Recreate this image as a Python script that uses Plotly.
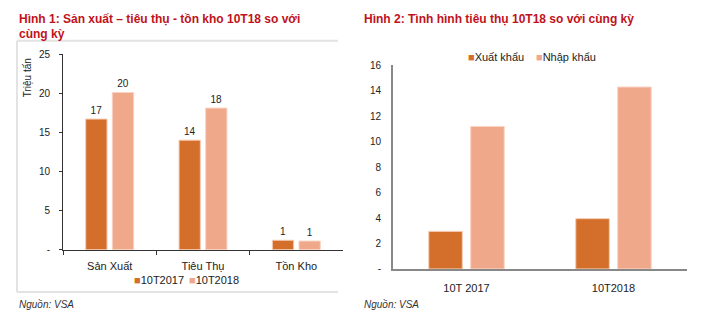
import plotly.graph_objects as go

# ---- data ----
cats1 = ["Sản Xuất", "Tiêu Thụ", "Tồn Kho"]
val_2017 = [16.7, 14.0, 1.2]
val_2018 = [20.1, 18.1, 1.1]
y1_ticks = [0, 5, 10, 15, 20, 25]
y1_ticktext = ["-", "5", "10", "15", "20", "25"]

cats2 = ["10T 2017", "10T2018"]
xuat_khau = [2.95, 3.95]
nhap_khau = [11.2, 14.3]
y2_ticks = [0, 2, 4, 6, 8, 10, 12, 14, 16]
y2_ticktext = ["-", "2", "4", "6", "8", "10", "12", "14", "16"]

series1_names = ["10T2017", "10T2018"]
series2_names = ["Xuất khẩu", "Nhập khẩu"]

DARK = "#D36F2B"
LIGHT = "#F0A88B"
RED = "#C0121B"
FONT = "Liberation Sans"
W, H = 715, 325

def px(x):
    return x / W

def py(y):
    return 1 - y / H

fig = go.Figure()

fig.add_trace(go.Bar(x=cats1, y=val_2017, name=series1_names[0], marker_color=DARK,
                     marker_line=dict(color="#F6C9B0", width=1),
                     texttemplate="%{y:.0f}", textposition="outside",
                     textfont=dict(size=10, color="#222"), cliponaxis=False,
                     xaxis="x", yaxis="y", showlegend=False))
fig.add_trace(go.Bar(x=cats1, y=val_2018, name=series1_names[1], marker_color=LIGHT,
                     marker_line=dict(color="#F8D2C2", width=1),
                     texttemplate="%{y:.0f}", textposition="outside",
                     textfont=dict(size=10, color="#222"), cliponaxis=False,
                     xaxis="x", yaxis="y", showlegend=False))

fig.add_trace(go.Bar(x=cats2, y=xuat_khau, name=series2_names[0], marker_color=DARK,
                     marker_line=dict(color="#F6C9B0", width=1),
                     xaxis="x2", yaxis="y2", showlegend=False))
fig.add_trace(go.Bar(x=cats2, y=nhap_khau, name=series2_names[1], marker_color=LIGHT,
                     marker_line=dict(color="#F8D2C2", width=1),
                     xaxis="x2", yaxis="y2", showlegend=False))

fig.update_layout(
    width=W, height=H, margin=dict(l=0, r=0, t=0, b=0),
    paper_bgcolor="white", plot_bgcolor="white",
    font=dict(family=FONT, size=11, color="#222"),
    barmode="group", bargap=0.43, bargroupgap=0.2,
    xaxis=dict(domain=[px(63), px(343)], showline=True, linecolor="#333", linewidth=1,
               ticks="outside", tickson="boundaries", ticklen=4, tickcolor="#333",
               ticklabelstandoff=6,
               tickfont=dict(size=11), showgrid=False, zeroline=False),
    yaxis=dict(domain=[py(253), py(50)], range=[0, 25], showline=True, linecolor="#333",
               linewidth=1, ticks="outside", ticklen=3, tickcolor="#333",
               ticklabelstandoff=7,
               tickvals=y1_ticks, ticktext=y1_ticktext, tickfont=dict(size=10),
               showgrid=False, zeroline=False, anchor="x"),
    xaxis2=dict(domain=[px(393), px(687)], anchor="y2", showline=True, linecolor="#888",
                linewidth=2, ticks="", tickfont=dict(size=11), ticklabelstandoff=8,
                showgrid=False, zeroline=False),
    yaxis2=dict(domain=[py(273), py(61.7)], range=[0, 16], anchor="x2", showline=True,
                linecolor="#888", linewidth=2, ticks="", tickvals=y2_ticks,
                ticktext=y2_ticktext, tickfont=dict(size=10), ticklabelstandoff=8,
                showgrid=False, zeroline=False),
    showlegend=False,
)

def legend_item(label, color, x, y):
    return dict(text=f"<span style='color:{color}'>■</span>{label}",
                x=px(x), y=py(y), xanchor="left", yanchor="middle", borderpad=0,
                font=dict(size=11, color="#222"))

annotations = [
    dict(text="<b>Hình 1: Sản xuất – tiêu thụ - tồn kho 10T18 so với</b>",
         x=px(17), y=py(13), xanchor="left", yanchor="middle",
         font=dict(size=12, color=RED)),
    dict(text="<b>cùng kỳ</b>", x=px(17), y=py(29), xanchor="left", yanchor="middle",
         font=dict(size=12, color=RED)),
    dict(text="<b>Hình 2: Tình hình tiêu thụ 10T18 so với cùng kỳ</b>",
         x=px(362), y=py(13), xanchor="left", yanchor="middle",
         font=dict(size=12, color=RED)),
    dict(text="Triệu tấn", textangle=-90, x=px(27), y=py(75), xanchor="center",
         yanchor="middle", font=dict(size=10, color="#222")),
    dict(text="<i>Nguồn: VSA</i>", x=px(17), y=py(310), xanchor="left", yanchor="middle",
         font=dict(size=10, color="#333")),
    dict(text="<i>Nguồn: VSA</i>", x=px(362), y=py(310), xanchor="left", yanchor="middle",
         font=dict(size=10, color="#333")),
    legend_item(series1_names[0], DARK, 133, 284),
    legend_item(series1_names[1], LIGHT, 188, 284),
    legend_item(series2_names[0], DARK, 467, 53),
    legend_item(series2_names[1], LIGHT, 535, 53),
]
for a in annotations:
    a.update(xref="paper", yref="paper", showarrow=False)
fig.update_layout(annotations=annotations)

frame = dict(type="line", xref="paper", yref="paper", line=dict(color="#E3E3E3", width=2))
fig.update_layout(shapes=[
    dict(frame, x0=px(17), x1=px(338), y0=py(36), y1=py(36)),
    dict(frame, x0=px(17), x1=px(17), y0=py(36), y1=py(297)),
    dict(frame, x0=px(17), x1=px(338), y0=py(297), y1=py(297)),
])

fig.write_html("out.html")
